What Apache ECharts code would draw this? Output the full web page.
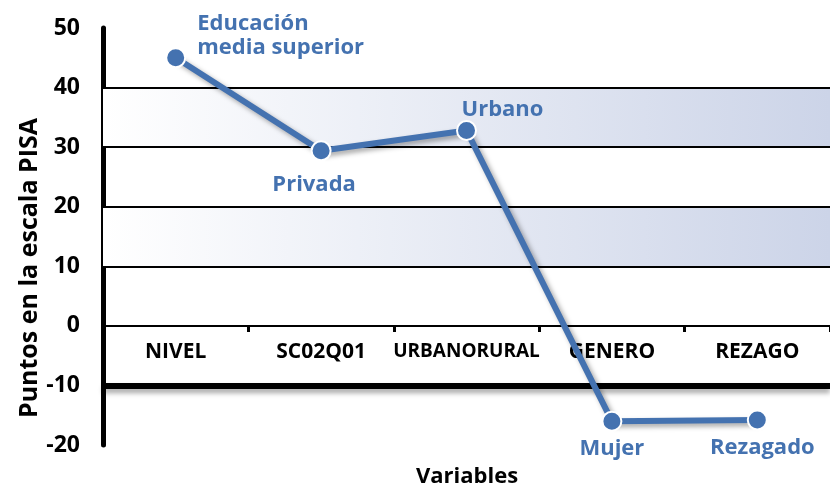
<!DOCTYPE html>
<html>
<head>
<meta charset="utf-8">
<script src="https://cdn.jsdelivr.net/npm/echarts@6/dist/echarts.min.js"></script>
<style>
  html, body { margin: 0; padding: 0; background: #fff; }
  #chart { width: 830px; height: 487px; }
</style>
</head>
<body>
<div id="chart"></div>
<script>
// categorias y valores
const categories = ['NIVEL', 'SC02Q01', 'URBANORURAL', 'GENERO', 'REZAGO']
const values = [45, 29.4, 32.8, -16, -15.8]
const pointLabels = ['Educación\nmedia superior', 'Privada', 'Urbano', 'Mujer', 'Rezagado']
const gridLines = [40, 30, 20, 10]
const bands = [[10, 20], [30, 40]]
const baseLine = -10

const blue = '#4472b0'
const font = '"Open Sans", "Noto Sans", sans-serif'

// posicion de cada etiqueta de punto
const labelPlace = [
    { position: 'right', offset: [6, -22], align: 'left' },
    { position: 'bottom', offset: [-7, 7] },
    { position: 'top', offset: [36, 7] },
    { position: 'bottom', offset: [0, 0] },
    { position: 'bottom', offset: [5, 0] }
]

let chart = echarts.init(document.getElementById('chart'))

let bandColor = new echarts.graphic.LinearGradient(0, 0, 1, 0, [
    { offset: 0, color: '#ffffff' },
    { offset: 1, color: '#ccd4e8' }
])

let options = {
    animation: false,
    grid: { left: 103, right: -8, top: 28, bottom: 42 },
    xAxis: {
        type: 'category',
        data: categories,
        position: 'bottom',
        offset: -119,
        axisLine: { onZero: false, lineStyle: { color: '#000', width: 2 } },
        axisTick: { show: true, interval: 0, length: 6, inside: false, lineStyle: { color: '#000', width: 3 } },
        axisLabel: {
            interval: 0,
            hideOverlap: false,
            margin: 16,
            color: '#000',
            fontFamily: font,
            fontWeight: 'bold',
            fontSize: 21,
            formatter: v => v === 'URBANORURAL' ? '{s|' + v + '}' : v,
            rich: { s: { fontSize: 19, fontFamily: font, fontWeight: 'bold', color: '#000' } }
        },
        splitLine: { show: false }
    },
    yAxis: {
        type: 'value',
        min: -20,
        max: 50,
        interval: 10,
        axisLine: { show: true, onZero: false, lineStyle: { color: '#000', width: 5 } },
        axisTick: { show: false },
        axisLabel: {
            margin: 23,
            color: '#000',
            fontFamily: font,
            fontWeight: 'bold',
            fontSize: 23
        },
        splitLine: { show: false }
    },
    graphic: [
        {
            type: 'text',
            x: 30,
            y: 268,
            rotation: Math.PI / 2,
            style: {
                text: 'Puntos en la escala PISA',
                font: 'bold 25px ' + font,
                fill: '#000',
                align: 'center',
                verticalAlign: 'middle'
            }
        },
        {
            type: 'text',
            x: 467,
            y: 477,
            style: {
                text: 'Variables',
                font: 'bold 22px ' + font,
                fill: '#000',
                align: 'center',
                verticalAlign: 'middle'
            }
        }
    ],
    series: [
        {
            // fondo: bandas y lineas de la rejilla
            type: 'line',
            data: [],
            silent: true,
            z: 1,
            markArea: {
                silent: true,
                z: 1,
                itemStyle: { color: bandColor },
                data: bands.map(b => [{ yAxis: b[0] }, { yAxis: b[1] }])
            },
            markLine: {
                silent: true,
                z: 1,
                symbol: ['none', 'none'],
                label: { show: false },
                data: gridLines.map(v => ({
                    yAxis: v,
                    lineStyle: { color: '#000', width: 2, type: 'solid' }
                })).concat([{
                    yAxis: baseLine,
                    lineStyle: {
                        color: '#000', width: 6, type: 'solid',
                        shadowColor: 'rgba(0,0,0,0.35)', shadowBlur: 5, shadowOffsetY: 4
                    }
                }])
            }
        },
        {
            type: 'line',
            z: 3,
            data: values.map((v, i) => ({
                value: v,
                label: Object.assign({ formatter: pointLabels[i] }, labelPlace[i])
            })),
            symbol: 'circle',
            symbolSize: 19,
            lineStyle: {
                color: blue,
                width: 6,
                shadowColor: 'rgba(0,0,0,0.35)',
                shadowBlur: 5,
                shadowOffsetX: 3,
                shadowOffsetY: 3
            },
            itemStyle: { color: blue, borderColor: '#fff', borderWidth: 2 },
            label: {
                show: true,
                color: blue,
                fontFamily: font,
                fontWeight: 'bold',
                fontSize: 22,
                lineHeight: 24
            }
        }
    ]
}
options && chart.setOption(options)
</script>
</body>
</html>
